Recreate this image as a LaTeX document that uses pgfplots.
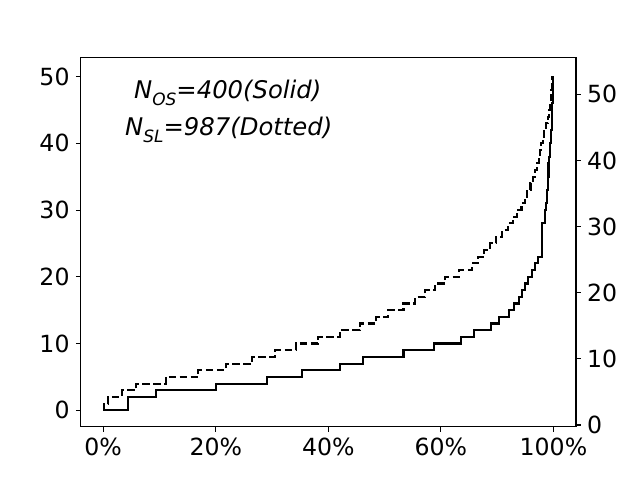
\documentclass[border=0pt]{standalone}
\usepackage{fontspec}
\setmainfont{DejaVu Sans}
\usepackage{pgfplots}
\pgfplotsset{compat=1.18}
\begin{document}
\begin{tikzpicture}
\path[use as bounding box] (-58.1pt,-38.2pt) rectangle (402.7pt,307.4pt);
\begin{axis}[
  at={(0,0)}, anchor=south west,
  scale only axis, width=356.6pt, height=265.7pt,
  xmin=-5, xmax=105, ymin=-2.5, ymax=52.8,
  xtick={0,25,50,75,100},
  xticklabels={0\%,20\%,40\%,60\%,100\%},
  ytick={0,10,20,30,40,50},
  tick align=outside, tick pos=left,
  major tick length=3.5pt,
  every tick/.style={black, line width=0.8pt},
  axis line style={line width=0.8pt},
  tick label style={font=\fontsize{17}{17}\selectfont},
  /pgf/number format/assume math mode=true,
  xticklabel style={yshift=-1pt},
  yticklabel style={xshift=-1pt},
  clip=false,
]
\addplot[const plot, black, line width=1.5pt] coordinates {
(0,0)(5.5,2)(11.7,3)(25.1,4)(36.3,5)(44.1,6)(52.6,7)(57.6,8)(66.7,9)(73.5,10)
(79.5,11)(82.4,12)(86.1,13)(88.0,14)(90.2,15)(91.2,16)(92.4,17)(93.0,18)(93.7,19)
(94.4,20)(95.2,21)(95.9,22)(96.6,23)(97.5,28)(98.1,30)(98.3,31)(98.5,33)(98.7,35)
(98.9,37)(99.1,38)(99.3,40)(99.45,42)(99.6,44)(99.7,46)(99.8,48)(99.9,50)(100,50)
};
\addplot[const plot, black, line width=1.5pt, dash pattern=on 5.5pt off 2.4pt] coordinates {
(0,0)(0.2,1)(1.1,2)(4.1,3)(7.3,4)(13.9,5)(21.1,6)(27.2,7)(33.1,8)(38.2,9)(42.8,10)
(47.7,11)(52.6,12)(57.0,13)(60.6,14)(63.3,15)(66.7,16)(69.3,17)(71.5,18)(73.7,19)
(75.9,20)(79.0,21)(81.9,22)(83.3,23)(84.6,24)(86.0,25)(87.3,26)(88.6,27)(89.9,28)
(91.0,29)(92.0,30)(92.9,31)(93.6,32)(94.2,33)(94.9,34)(95.5,35)(95.9,36)(96.3,37)
(96.7,38)(97.0,39)(97.3,40)(97.6,41)(97.9,42)(98.3,43)(98.7,44)(99.1,45)(99.3,46)
(99.5,48)(99.7,50)(100,50)
};
\node[font=\fontsize{17.5}{17.5}\selectfont\itshape] at (rel axis cs:0.297,0.905)
  {N\raisebox{-0.3em}{\fontsize{12.2}{12.2}\selectfont OS}=400(Solid)};
\node[font=\fontsize{17.5}{17.5}\selectfont\itshape] at (rel axis cs:0.299,0.805)
  {N\raisebox{-0.3em}{\fontsize{12.2}{12.2}\selectfont SL}=987(Dotted)};
\end{axis}
\begin{axis}[
  at={(0,0)}, anchor=south west,
  scale only axis, width=356.6pt, height=265.7pt,
  xmin=-5, xmax=105, ymin=-0.3, ymax=55.5,
  axis x line=none,
  axis y line*=right,
  ytick={0,10,20,30,40,50},
  tick align=outside,
  major tick length=3.5pt,
  every tick/.style={black, line width=0.8pt},
  axis line style={line width=0.8pt, -},
  tick label style={font=\fontsize{17}{17}\selectfont},
  /pgf/number format/assume math mode=true,
  yticklabel style={xshift=1pt},
]
\addplot[draw=none] coordinates {(0,0)};
\end{axis}
\end{tikzpicture}
\end{document}
